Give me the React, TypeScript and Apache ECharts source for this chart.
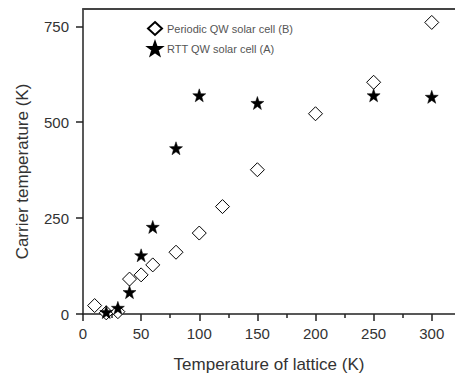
import React, { useEffect, useRef } from "react";
import * as echarts from "echarts";

const periodicX = [10, 20, 30, 40, 50, 60, 80, 100, 120, 150, 200, 250, 300];
const periodicY = [22, 3, 6, 91, 102, 128, 161, 211, 280, 376, 522, 604, 760];
const rttX = [20, 30, 40, 50, 60, 80, 100, 150, 250, 300];
const rttY = [5, 16, 57, 153, 227, 432, 570, 550, 570, 566];

const xMajor = [0, 50, 100, 150, 200, 250, 300];
const xMinor = [25, 75, 125, 175, 225, 275];
const yMajor = [0, 250, 500, 750];
const yMinor = [125, 375, 625];

const STAR =
  "path://M50,0 L61.8,33.8 L97.6,34.5 L69,56.2 L79.4,90.5 L50,70 L20.6,90.5 L31,56.2 L2.4,34.5 L38.2,33.8 Z";

export default function App() {
  const ref = useRef<HTMLDivElement>(null);
  useEffect(() => {
    if (!ref.current) return;
    const chart = echarts.init(ref.current, undefined, { renderer: "svg" });
    const font = "'Liberation Sans', Arial, sans-serif";
    const axisLineStyle = { color: "#222", width: 1.5 };
    chart.setOption({
      animation: false,
      backgroundColor: "#fff",
      grid: { left: 83, top: 9, right: 0, bottom: 61, containLabel: false },
      legend: {
        orient: "vertical",
        left: 142,
        top: 16,
        itemWidth: 14,
        itemHeight: 13,
        itemGap: 5,
        textStyle: { color: "#555", fontSize: 11, fontFamily: font },
        data: ["Periodic QW solar cell (B)", "RTT QW solar cell (A)"],
      },
      xAxis: [
        {
          type: "value",
          min: 0,
          max: 320,
          interval: 50,
          position: "bottom",
          splitLine: { show: false },
          axisLine: { show: true, onZero: false, lineStyle: axisLineStyle },
          axisTick: { show: true, length: 7, customValues: xMajor, lineStyle: axisLineStyle },
          axisLabel: {
            customValues: xMajor,
            color: "#333",
            fontSize: 15,
            fontFamily: font,
            margin: 12,
          },
          name: "Temperature of lattice (K)",
          nameLocation: "middle",
          nameGap: 42,
          nameTextStyle: { color: "#333", fontSize: 17, fontFamily: font },
        },
        {
          type: "value",
          min: 0,
          max: 320,
          position: "bottom",
          splitLine: { show: false },
          axisLine: { show: false, onZero: false },
          axisTick: { show: true, length: 4, customValues: xMinor, lineStyle: axisLineStyle },
          axisLabel: { show: false },
        },
        {
          type: "value",
          min: 0,
          max: 320,
          position: "top",
          splitLine: { show: false },
          axisLine: { show: true, onZero: false, lineStyle: { color: "#444", width: 2 } },
          axisTick: { show: false },
          axisLabel: { show: false },
        },
      ],
      yAxis: [
        {
          type: "value",
          min: 0,
          max: 795,
          interval: 250,
          splitLine: { show: false },
          axisLine: { show: true, onZero: false, lineStyle: axisLineStyle },
          axisTick: { show: true, length: 7, customValues: yMajor, lineStyle: axisLineStyle },
          axisLabel: {
            customValues: yMajor,
            color: "#333",
            fontSize: 15,
            fontFamily: font,
            margin: 14,
          },
          name: "Carrier temperature (K)",
          nameLocation: "middle",
          nameGap: 52,
          nameTextStyle: {
            color: "#333",
            fontSize: 17,
            fontFamily: font,
            padding: [0, 20, 0, 0],
          },
        },
        {
          type: "value",
          min: 0,
          max: 795,
          splitLine: { show: false },
          axisLine: { show: false, onZero: false },
          axisTick: { show: true, length: 4, customValues: yMinor, lineStyle: axisLineStyle },
          axisLabel: { show: false },
        },
      ],
      series: [
        {
          name: "Periodic QW solar cell (B)",
          type: "scatter",
          symbol: "diamond",
          symbolSize: 14,
          itemStyle: { color: "#fff", borderColor: "#000", borderWidth: 1, opacity: 1 },
          data: periodicX.map((x, i) => [x, periodicY[i]]),
          z: 2,
        },
        {
          name: "RTT QW solar cell (A)",
          type: "scatter",
          symbol: STAR,
          symbolSize: 13,
          itemStyle: { color: "#000", borderColor: "#000", borderWidth: 0.5, opacity: 1 },
          data: rttX.map((x, i) => [x, rttY[i]]),
          z: 3,
        },
      ],
    });
    return () => chart.dispose();
  }, []);
  return <div ref={ref} style={{ width: 455, height: 378, position: "absolute", left: 0, top: 0 }} />;
}
